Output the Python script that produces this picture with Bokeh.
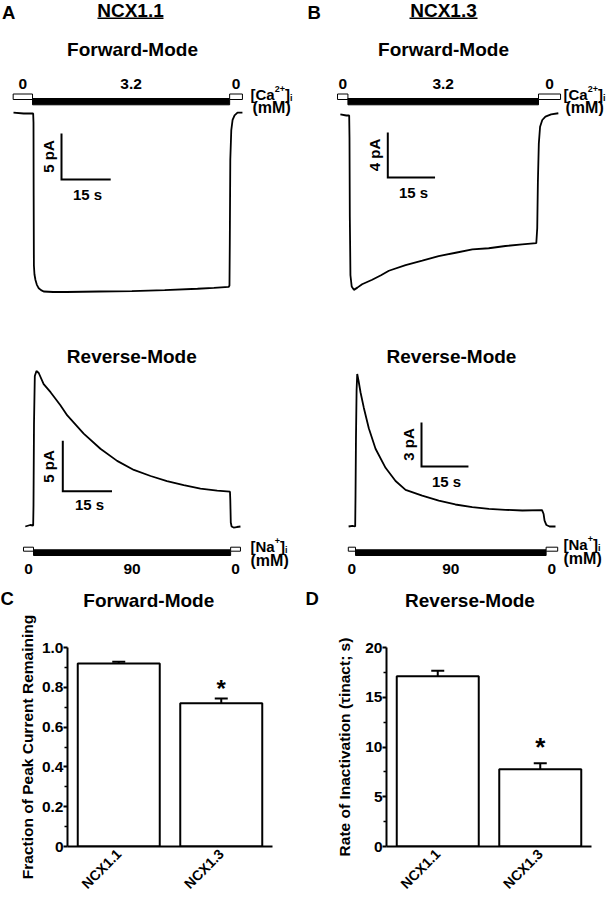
import math
from bokeh.plotting import figure
from bokeh.layouts import column, row
from bokeh.models import (Range1d, Label, FactorRange, FixedTicker, Whisker,
                          ColumnDataSource, TeeHead, CustomJSTickFormatter)
from bokeh.core.properties import value
from bokeh.embed import file_html
from bokeh.resources import INLINE

FONT = "Liberation Sans"

# ---------------- data: current traces (time in s from solution switch, current in pA) ----------------
ncx11_fwd_t = [-6.1, -3.0, -0.1, 0.0, 0.05, 0.12, 0.3, 0.6, 1.0, 1.6, 2.3, 3.1, 6.0, 10.0, 20.0, 30.0,
               40.0, 50.0, 55.0, 59.5, 59.75, 59.85, 60.0, 60.3, 60.7, 61.3, 62.2, 63.7]
ncx11_fwd_i = [0.1, 0.0, 0.0, -1.0, -9.0, -16.5, -17.5, -18.1, -18.6, -19.0, -19.2, -19.35, -19.4, -19.4,
               -19.35, -19.3, -19.2, -19.05, -18.95, -18.85, -18.7, -14.0, -5.0, -1.8, -0.7, -0.2, 0.1, 0.1]

ncx13_fwd_t = [-2.9, -1.0, -0.1, 0.0, 0.1, 0.3, 0.7, 1.4, 2.5, 4.0, 7.2, 10.0, 12.5, 17.8, 23.1, 28.3,
               33.7, 39.0, 44.2, 49.5, 54.8, 59.3, 59.6, 59.8, 60.1, 60.5, 61.2, 62.2, 64.0, 66.3]
ncx13_fwd_i = [0.1, 0.0, 0.0, -2.0, -9.0, -14.2, -15.2, -15.5, -15.3, -15.0, -14.6, -14.2, -13.8, -13.3,
               -12.9, -12.5, -12.2, -11.9, -11.8, -11.6, -11.45, -11.35, -10.0, -6.0, -2.5, -1.0, -0.4,
               -0.1, 0.1, 0.2]

ncx11_rev_t = [-2.5, -1.0, -0.1, 0.0, 0.15, 0.4, 0.9, 1.6, 3.1, 5.2, 8.2, 10.3, 15.3, 20.4, 25.5, 30.6,
               35.7, 40.7, 45.8, 50.9, 56.0, 59.9, 60.0, 60.15, 60.4, 61.0, 62.0, 63.1]
ncx11_rev_i = [-0.1, 0.05, 0.0, 2.0, 10.0, 14.8, 15.3, 15.1, 14.0, 13.2, 11.9, 10.9, 9.1, 7.6, 6.4, 5.5,
               4.9, 4.4, 4.0, 3.65, 3.45, 3.35, 2.5, 0.3, -0.1, -0.2, -0.15, -0.1]

ncx13_rev_t = [-2.2, -1.0, -0.1, 0.0, 0.15, 0.35, 0.55, 1.0, 1.6, 2.65, 4.25, 6.4, 9.6, 12.8, 16.0, 21.3,
               26.6, 31.9, 37.3, 42.6, 47.9, 53.3, 59.6, 60.1, 60.4, 61.0, 62.0, 63.9]
ncx13_rev_i = [0.0, 0.05, 0.0, 2.0, 6.0, 9.3, 10.4, 9.9, 9.15, 8.1, 6.7, 5.3, 4.0, 3.1, 2.5, 2.1, 1.77,
               1.5, 1.32, 1.2, 1.14, 1.09, 1.12, 0.85, 0.4, 0.1, 0.0, 0.0]

# solution protocol (segments in s, concentration in mM)
ca_conc = [0, 3.2, 0]
ca_labels = ["0", "3.2", "0"]
na_conc = [0, 90, 0]
na_labels = ["0", "90", "0"]
ncx11_fwd_seg_start = [-6.2, -0.3, 59.8]
ncx11_fwd_seg_end = [-0.3, 59.8, 63.7]
ncx13_fwd_seg_start = [-3.8, -0.5, 60.0]
ncx13_fwd_seg_end = [-0.5, 60.0, 67.0]
ncx11_rev_seg_start = [-3.05, 0.0, 60.1]
ncx11_rev_seg_end = [0.0, 60.1, 63.1]
ncx13_rev_seg_start = [-2.3, 0.0, 60.9]
ncx13_rev_seg_end = [0.0, 60.9, 64.6]

# scale bars
scale_time_s = 15
scale_amp_pA = {"ncx11_fwd": 5, "ncx13_fwd": 4, "ncx11_rev": 5, "ncx13_rev": 3}

# summary data
isoforms = ["NCX1.1", "NCX1.3"]
frac_remaining = [0.92, 0.72]
frac_remaining_sem = [0.008, 0.024]
tau_inact = [17.1, 7.76]
tau_inact_sem = [0.56, 0.6]
frac_ticks = [0, 0.2, 0.4, 0.6, 0.8, 1.0]
frac_minor = [0.1, 0.3, 0.5, 0.7, 0.9]
tau_ticks = [0, 5, 10, 15, 20]
tau_minor = [2.5, 7.5, 12.5, 17.5]

# ---------------- layout ----------------
W = 305
ROWS_REF = [(0, 320), (320, 612), (612, 900)]
ROWS_PX = [320, 292, 288]
COLS_REF = [(0, 305), (305, 610)]

ADV = {"[": .333, "C": .722, "a": .556, "N": .722, "2": .556, "+": .584, "]": .333, "i": .278}


def add_text(p, x, y, text, size, align="center", baseline="middle", angle=0.0, xo=0, yo=0):
    p.add_layout(Label(x=x, y=y, text=text, text_font=FONT, text_font_size=f"{size}px",
                       text_font_style="bold", text_align=align, text_baseline=baseline,
                       angle=angle, x_offset=xo, y_offset=yo, text_color="black"))


class TracePanel:
    def __init__(self, col, rw, t0x, pxs, i0y, pxa):
        self.t0x, self.pxs, self.i0y, self.pxa = t0x, pxs, i0y, pxa
        x0, x1 = COLS_REF[col]
        y0, y1 = ROWS_REF[rw]
        self.p = figure(width=W, height=ROWS_PX[rw],
                        x_range=Range1d(self.t(x0), self.t(x1)),
                        y_range=Range1d(self.i(y1), self.i(y0)),
                        x_axis_type=None, y_axis_type=None, toolbar_location=None,
                        output_backend="svg", min_border=0, outline_line_color=None,
                        background_fill_color="white", border_fill_color="white")

    def t(self, xr):
        return (xr - self.t0x) / self.pxs

    def i(self, yr):
        return (self.i0y - yr) / self.pxa

    def trace(self, t, cur):
        self.p.line(t, cur, line_color="black", line_width=1.8)

    def protocol(self, starts, ends, conc, labels, black_y, open_y, label_yr):
        tops, bottoms, fills = [], [], []
        for c in conc:
            yy = black_y if c > 0 else open_y
            tops.append(self.i(yy[0]))
            bottoms.append(self.i(yy[1]))
            fills.append("black" if c > 0 else "white")
        self.p.quad(left=starts, right=ends, top=tops, bottom=bottoms, fill_color=fills,
                    line_color="black", line_width=1)
        for s, e, lab in zip(starts, ends, labels):
            add_text(self.p, (s + e) / 2, self.i(label_yr), lab, 15.5)

    def ion(self, xr, yr_base, name, sup, mm_xr, mm_yr):
        x, y = self.t(xr), self.i(yr_base)
        pieces = [("[" + name, 15, 0), (sup, 9, 5.5), ("]", 15, 0), ("i", 9, -3)]
        off = 0.0
        for txt, sz, dy in pieces:
            add_text(self.p, x, y, txt, sz, align="left", baseline="alphabetic", xo=off, yo=dy)
            off += sum(ADV[c] for c in txt) * sz
        add_text(self.p, self.t(mm_xr), self.i(mm_yr), "(mM)", 16, align="left")

    def scale(self, cxr, cyr, dur, amp, amp_pos, dur_pos):
        x, y = self.t(cxr), self.i(cyr)
        self.p.line([x, x, x + dur], [y + amp, y, y], line_color="black", line_width=2,
                    line_join="miter")
        add_text(self.p, self.t(amp_pos[0]), self.i(amp_pos[1]), f"{amp} pA", 15, angle=math.pi / 2)
        add_text(self.p, self.t(dur_pos[0]), self.i(dur_pos[1]), f"{dur} s", 15)

    def txt(self, xr, yr, text, size, align="center"):
        add_text(self.p, self.t(xr), self.i(yr), text, size, align=align)

    def underline(self, x0r, x1r, yr):
        self.p.line([self.t(x0r), self.t(x1r)], [self.i(yr), self.i(yr)], line_color="black",
                    line_width=1.5)


# ---- A: NCX1.1 forward ----
a1 = TracePanel(0, 0, 33, 3.28, 113, 9.2)
a1.txt(1.5, 11.5, "A", 18.5, align="left")
a1.txt(130, 10, "NCX1.1", 19)
a1.underline(97, 163, 17.8)
a1.txt(132, 48.5, "Forward-Mode", 19)
a1.protocol(ncx11_fwd_seg_start, ncx11_fwd_seg_end, ca_conc, ca_labels, (98, 104.3), (93.5, 99), 83)
a1.ion(250, 94, "Ca", "2+", 252, 107)
a1.trace(ncx11_fwd_t, ncx11_fwd_i)
a1.scale(61, 179, scale_time_s, scale_amp_pA["ncx11_fwd"], (48, 156), (87, 194))

# ---- B: NCX1.3 forward ----
b1 = TracePanel(1, 0, 349, 3.15, 115, 11.25)
b1.txt(307, 11.5, "B", 18.5, align="left")
b1.txt(443, 10, "NCX1.3", 19)
b1.underline(409, 477, 17.8)
b1.txt(443, 48.5, "Forward-Mode", 19)
b1.protocol(ncx13_fwd_seg_start, ncx13_fwd_seg_end, ca_conc, ca_labels, (98, 104.3), (93.5, 99), 83)
b1.ion(563, 94, "Ca", "2+", 565, 107)
b1.trace(ncx13_fwd_t, ncx13_fwd_i)
b1.scale(387.3, 177, scale_time_s, scale_amp_pA["ncx13_fwd"], (374, 154.5), (413, 192))

# ---- A: NCX1.1 reverse (+ header of panel C) ----
a2 = TracePanel(0, 1, 33, 3.28, 525, 10.1)
a2.txt(131.3, 356, "Reverse-Mode", 19)
a2.trace(ncx11_rev_t, ncx11_rev_i)
a2.scale(62.3, 490.7, scale_time_s, scale_amp_pA["ncx11_rev"], (48, 466), (89, 504))
a2.protocol(ncx11_rev_seg_start, ncx11_rev_seg_end, na_conc, na_labels, (549.3, 555), (546.7, 550.7), 568)
a2.ion(250, 546, "Na", "+", 250, 560)
a2.txt(0, 598, "C", 18.5, align="left")
a2.txt(148.3, 599.5, "Forward-Mode", 19)

# ---- B: NCX1.3 reverse (+ header of panel D) ----
b2 = TracePanel(1, 1, 355, 3.13, 526, 14.67)
b2.txt(451, 356, "Reverse-Mode", 19)
b2.trace(ncx13_rev_t, ncx13_rev_i)
b2.scale(421, 466, scale_time_s, scale_amp_pA["ncx13_rev"], (407.5, 444), (446, 480.5))
b2.protocol(ncx13_rev_seg_start, ncx13_rev_seg_end, na_conc, na_labels, (549.3, 555), (546.7, 550.7), 568)
b2.ion(563, 544, "Na", "+", 563, 558)
b2.txt(305, 598, "D", 18.5, align="left")
b2.txt(469.5, 599.5, "Reverse-Mode", 19)


# ---------------- bar charts ----------------
def bar_panel(col, vals, sems, ticks, minor, ymax, ylabel, frame_ref, star_y, star_size,
              ylab_standoff, code):
    x0, x1 = COLS_REF[col]
    y0, y1 = ROWS_REF[2]
    sx = W / (x1 - x0)
    sy = ROWS_PX[2] / (y1 - y0)
    left, right, top, bottom = frame_ref
    p = figure(width=W, height=ROWS_PX[2], x_range=FactorRange(*isoforms),
               y_range=Range1d(0, ymax), toolbar_location=None, output_backend="svg",
               min_border_left=round((left - x0) * sx), min_border_right=round((x1 - right) * sx),
               min_border_top=round((top - y0) * sy), min_border_bottom=round((y1 - bottom) * sy),
               outline_line_color=None, background_fill_color="white", border_fill_color="white")
    p.grid.visible = False

    src = ColumnDataSource(dict(x=isoforms, top=vals, upper=[v + s for v, s in zip(vals, sems)]))
    p.vbar(x="x", top="top", width=0.8, source=src, fill_color="white", line_color="black",
           line_width=2)
    p.add_layout(Whisker(base="x", lower="top", upper="upper", source=src, line_color="black",
                         line_width=2, lower_head=None,
                         upper_head=TeeHead(size=13, line_color="black", line_width=2)))
    p.text(x=[isoforms[1]], y=[star_y], text=["*"], text_font=value(FONT),
           text_font_size=f"{star_size}px", text_font_style="bold", text_align="center",
           text_baseline="alphabetic", text_color="black")

    ya = p.yaxis[0]
    ya.ticker = FixedTicker(ticks=ticks, minor_ticks=minor)
    ya.formatter = CustomJSTickFormatter(code=code)
    ya.axis_line_width = 2
    ya.axis_line_color = "black"
    ya.major_tick_line_width = 2
    ya.major_tick_line_color = "black"
    ya.major_tick_out = 4
    ya.major_tick_in = 0
    ya.minor_tick_line_width = 1.5
    ya.minor_tick_line_color = "black"
    ya.minor_tick_out = 3
    ya.minor_tick_in = 0
    ya.major_label_standoff = 0
    ya.major_label_text_font = FONT
    ya.major_label_text_font_size = "15.5px"
    ya.major_label_text_font_style = "bold"
    ya.major_label_text_color = "black"
    ya.axis_label = ylabel
    ya.axis_label_text_font = FONT
    ya.axis_label_text_font_size = "15.5px"
    ya.axis_label_text_font_style = "bold"
    ya.axis_label_text_color = "black"
    ya.axis_label_standoff = ylab_standoff

    xa = p.xaxis[0]
    xa.axis_line_width = 2
    xa.axis_line_color = "black"
    xa.major_tick_line_color = None
    xa.major_tick_out = 0
    xa.major_tick_in = 0
    xa.major_label_orientation = math.pi / 4
    xa.major_label_standoff = 5
    xa.major_label_text_font = FONT
    xa.major_label_text_font_size = "14px"
    xa.major_label_text_font_style = "bold"
    xa.major_label_text_color = "black"
    return p


pc = bar_panel(0, frac_remaining, frac_remaining_sem, frac_ticks, frac_minor, 1.0,
               "Fraction of Peak Current Remaining", (67, 271.7, 646, 847.7), 0.795, 24, 3,
               "return tick == 0 ? '0' : tick.toFixed(1);")
pd_ = bar_panel(1, tau_inact, tau_inact_sem, tau_ticks, tau_minor, 20,
                "Rate of Inactivation (\u03c4inact; s)", (386, 590.7, 646.7, 847.7), 10.05, 26, 9,
                "return tick.toFixed(0);")

layout = column(row(a1.p, b1.p), row(a2.p, b2.p), row(pc, pd_))
open("out.html", "w").write(file_html(layout, INLINE, title="NCX1.1 vs NCX1.3"))
